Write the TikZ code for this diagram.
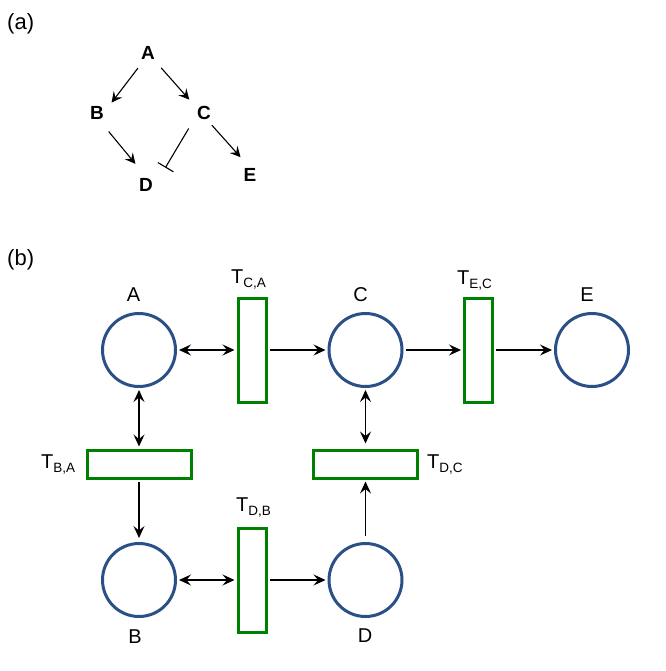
\documentclass[tikz,border=0pt]{standalone}
\usepackage{fontspec}
\setmainfont{Liberation Sans}
\usetikzlibrary{arrows.meta}
\definecolor{placeblue}{HTML}{2B5088}
\definecolor{transgreen}{HTML}{008000}
\tikzset{
  lbl/.style={font=\fontsize{20}{20}\selectfont, inner sep=0pt},
  glbl/.style={font=\fontsize{19}{19}\selectfont\bfseries, circle, inner sep=0pt, outer sep=0pt, minimum size=36pt},
  tagtext/.style={font=\fontsize{22}{22}\selectfont, inner sep=0pt},
  place/.style={circle, draw=placeblue, line width=3pt, minimum size=73pt, inner sep=0pt},
  vtrans/.style={rectangle, draw=transgreen, line width=3pt, minimum width=28pt, minimum height=104pt, inner sep=0pt},
  htrans/.style={rectangle, draw=transgreen, line width=3pt, minimum width=104pt, minimum height=28pt, inner sep=0pt},
  tip/.tip={Stealth[length=12pt,width=11pt,inset=4.5pt]},
  arr/.style={line width=1.2pt, -tip, shorten >=2pt, shorten <=2pt},
  darr/.style={line width=1.2pt, tip-tip, shorten >=2pt, shorten <=2pt},
  garr/.style={line width=1.1pt, -{Stealth[length=10.5pt,width=10.5pt,inset=4pt]}},
  inh/.style={line width=1.1pt, -{Bar[width=18pt]}},
}
\begin{document}
\begin{tikzpicture}[x=1pt,y=-1pt]
\path[use as bounding box] (0,0) rectangle (665,671);

% ---------- (a) ----------
\node[tagtext, anchor=west] (ta) at (7,24) {(a)};
\node[glbl] (gA) at (148,53.2) {A};
\node[glbl] (gB) at (97,113.2) {B};
\node[glbl] (gC) at (204,113.2) {C};
\node[glbl] (gD) at (146,185.2) {D};
\node[glbl] (gE) at (250,174.7) {E};

\draw[garr] (gA.236) -- (gB.36.7);
\draw[garr, shorten <=1.7pt, shorten >=2pt] (gA.-48.7) -- (gC.138.7);
\draw[garr, shorten <=3.8pt, shorten >=6pt] (gB.-59.7) -- (gD.112);
\draw[garr, shorten <=-3.7pt, shorten >=1.9pt] (gC.-55.9) -- (gE.117);
\draw[inh, shorten <=3.8pt, shorten >=8.7pt] (gC.222.8) -- (gD.34.6);

% ---------- (b) ----------
\node[tagtext, anchor=west] (tb) at (7,260) {(b)};

\node[place] (pA) at (139,350) {};
\node[place] (pC) at (365.5,350) {};
\node[place] (pE) at (592,350) {};
\node[place] (pB) at (139,580) {};
\node[place] (pD) at (365.5,580) {};

\node[vtrans] (tCA) at (252,350) {};
\node[vtrans] (tEC) at (478.5,350) {};
\node[vtrans] (tDB) at (252,580) {};
\node[htrans] (tBA) at (139,464) {};
\node[htrans] (tDC) at (365.5,464) {};

% labels
\node[lbl, anchor=base] (lA) at (133.5,301) {A};
\node[lbl, anchor=base] (lC) at (360.5,301.5) {C};
\node[lbl, anchor=base] (lE) at (587,301) {E};
\node[lbl, anchor=base] (lB) at (135,643) {B};
\node[lbl, anchor=base] (lD) at (365,642) {D};

\node[lbl, anchor=base west] (lCA) at (231,283) {T\raisebox{-4pt}{\fontsize{13.5}{14}\selectfont C,A}};
\node[lbl, anchor=base west] (lEC) at (457,284) {T\raisebox{-4pt}{\fontsize{13.5}{14}\selectfont E,C}};
\node[lbl, anchor=base west] (lDB) at (236,511) {T\raisebox{-4pt}{\fontsize{13.5}{14}\selectfont D,B}};
\node[lbl, anchor=base west] (lBA) at (41,468) {T\raisebox{-4pt}{\fontsize{13.5}{14}\selectfont B,A}};
\node[lbl, anchor=base west] (lDC) at (427,468) {T\raisebox{-4pt}{\fontsize{13.5}{14}\selectfont D,C}};

% arcs
\draw[darr] (pA) -- (tCA);
\draw[arr] (tCA) -- (pC);
\draw[arr] (pC) -- (tEC);
\draw[arr] (tEC) -- (pE);
\draw[darr] (pA) -- (tBA);
\draw[arr, shorten >=4pt] (tBA) -- (pB);
\draw[darr] (pB) -- (tDB);
\draw[arr] (tDB) -- (pD);
\draw[arr, shorten <=6pt] (pD) -- (tDC);
\draw[darr, shorten >=5pt] (pC) -- (tDC);
\end{tikzpicture}
\end{document}
